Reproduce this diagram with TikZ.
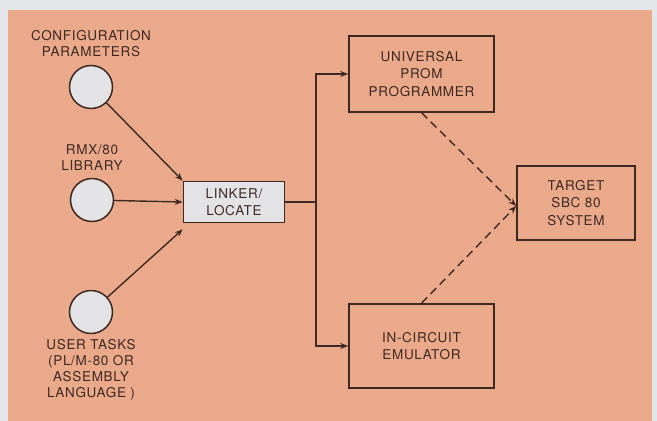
\documentclass[tikz,border=0pt]{standalone}
\usepackage{fontspec}
\setmainfont[LetterSpace=5]{TeX Gyre Heros}
\usepackage{xcolor}
\usetikzlibrary{arrows.meta,positioning}
\definecolor{salmon}{HTML}{EBA98B}
\definecolor{frame}{HTML}{E4E5E8}
\definecolor{disk}{HTML}{E3E3E6}
\definecolor{ink}{HTML}{3E2822}
\tikzset{
  src/.style={circle,draw=ink,fill=disk,line width=1.5pt,minimum size=43pt,inner sep=0pt},
  box/.style={draw=ink,line width=1.5pt,align=center,font=\fontsize{13.5}{17.5}\selectfont,text=ink,inner sep=0pt},
  lbl/.style={align=center,font=\fontsize{13.5}{16}\selectfont,text=ink},
  arr/.style={-{Stealth[length=8pt,width=6pt]},line width=1.4pt,draw=ink},
  dasharr/.style={arr,dash pattern=on 8pt off 5pt},
}

\begin{document}
\begin{tikzpicture}[x=1pt,y=-1pt]
\fill[frame] (0,0) rectangle (657,421);
\fill[salmon] (8,10) rectangle (652,421);
\useasboundingbox (0,0) rectangle (657,421);
% inputs
\node[src] (cfg) at (91,87) {};
\node[src] (rmx) at (92,200) {};
\node[src] (usr) at (91,312) {};
\node[lbl,above=4pt of cfg] (cfgl) {CONFIGURATION\\PARAMETERS};
\node[lbl,above=4pt of rmx] (rmxl) {RMX/80\\LIBRARY};
\node[lbl,below=2pt of usr] (usrl) {USER TASKS\\(PL/M-80 OR\\ASSEMBLY\\LANGUAGE )};
% tools
\node[box,fill=disk,minimum width=101pt,minimum height=41pt] (lnk) at (234,202) {LINKER/\\LOCATE};
\node[box,minimum width=145pt,minimum height=76pt] (prom) at (421.5,74) {UNIVERSAL\\PROM\\PROGRAMMER};
\node[box,minimum width=145pt,minimum height=84pt] (ice) at (421.5,346) {IN-CIRCUIT\\EMULATOR};
\node[box,minimum width=118pt,minimum height=74pt] (sbc) at (576,203) {TARGET\\SBC 80\\SYSTEM};
\coordinate (split) at (316,202);
\coordinate (hit) at ([yshift=-3pt]sbc.west);
\draw[arr] (cfg) -- (lnk.north west);
\draw[arr] (rmx) -- (lnk.west);
\draw[arr] (usr) -- ([yshift=-6pt]lnk.south west);
\draw[line width=1.4pt,draw=ink] (lnk.east) -- (split);
\draw[arr] (split) |- (prom.west);
\draw[arr] (split) |- (ice.west);
\draw[dasharr] (prom.south) -- (hit);
\draw[dasharr] (ice.north) -- (hit);
\end{tikzpicture}
\end{document}
